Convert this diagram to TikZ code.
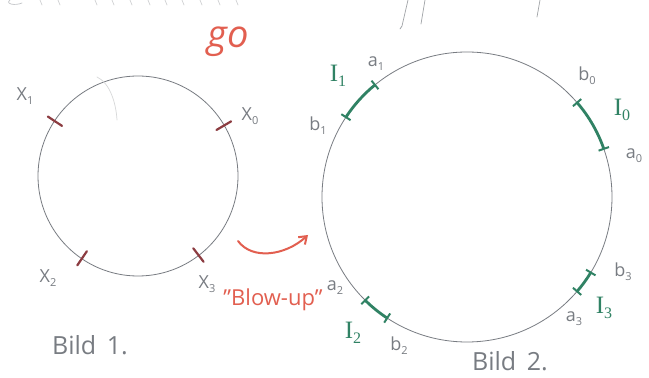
\documentclass[tikz,border=0pt]{standalone}
\usepackage{fontspec}
\setmainfont{Open Sans}
\newfontfamily\serifI{Liberation Serif}
\usetikzlibrary{arrows.meta,calc}
\definecolor{pencil}{RGB}{120,124,130}
\definecolor{redpen}{RGB}{226,95,80}
\definecolor{tickred}{RGB}{140,60,65}
\definecolor{greenpen}{RGB}{48,130,100}
\newcommand{\lowsub}[1]{\raisebox{-4pt}{\fontsize{11}{11}\selectfont #1}}
\newcommand{\greensub}[1]{\raisebox{-5pt}{\fontsize{16}{16}\selectfont #1}}
\tikzset{
  circ/.style={circle, draw=pencil, line width=0.8pt, inner sep=0pt, outer sep=0pt},
  tickmark/.style={draw=tickred, line width=2.2pt, line cap=round},
  lbl/.style={text=pencil, font=\fontsize{18}{18}\selectfont, inner sep=0pt},
  ilbl/.style={text=greenpen, font=\fontsize{25}{25}\selectfont\serifI, inner sep=0pt},
  interval/.style={draw=greenpen, line width=2.8pt, {Bar[width=11pt,line width=2pt]}-{Bar[width=11pt,line width=2pt]}},
  bild/.style={text=pencil, font=\fontsize{25}{25}\selectfont, inner sep=0pt},
  redtxt/.style={text=redpen, inner sep=0pt},
  faint/.style={draw=pencil!45, line width=0.7pt, line cap=round}
}
\begin{document}
\begin{tikzpicture}[x=1pt,y=1pt]
\useasboundingbox (0,0) rectangle (649,378);
\fill[white] (0,0) rectangle (649,378);

% cut-off strokes at the top edge
\draw[faint] (10,378) .. controls (5,374) and (15,372) .. (22,375);
\foreach \xx in {40,58,95,112,130,148,165,182,200,218,236}
  \draw[faint, draw=pencil!35] (\xx,378) -- (\xx+2,373);
\draw[faint, draw=pencil!70] (408,378) -- (402,352) -- (400,349);
\draw[faint, draw=pencil!70] (425,378) -- (421,354);
\draw[faint, draw=pencil!70] (540,378) -- (537,361);

% Bild 1
\node[circ, minimum size=200pt] (C1) at (138,202) {};
\draw[faint, draw=pencil!30] (97,301) .. controls (110,295) and (116,275) .. (117,258);
\foreach \ang/\nm in {30.4/t0, 146.6/t1, 235.8/t2, 307.4/t3} {
  \coordinate (\nm a) at ($(C1.center)+(\ang:91)$);
  \coordinate (\nm b) at ($(C1.center)+(\ang:108)$);
  \draw[tickmark] (\nm a) -- (\nm b);
}
\node[lbl] (x1) at (25,282) {X\lowsub{1}};
\node[lbl] (x0) at (250,262) {X\lowsub{0}};
\node[lbl] (x2) at (48,100) {X\lowsub{2}};
\node[lbl] (x3) at (207,94) {X\lowsub{3}};
\node[bild] (bild1) at (90,33) {Bild\, 1.};

% red notes
\node[redtxt, font=\fontsize{38}{38}\selectfont\itshape] (go) at (228,336) {go};
\node[redtxt, font=\fontsize{22}{22}\selectfont] (blow) at (273,78) {"Blow-up"};
\coordinate (arrS) at (238,137);
\coordinate (arrE) at (308,143);
\draw[draw=redpen, line width=2pt, line cap=round, -{Straight Barb[length=7pt,width=10pt,line width=2pt]}]
  (arrS) .. controls (252,118) and (285,122) .. (arrE);

% Bild 2
\node[circ, minimum size=290pt] (C2) at (467,181) {};
\draw[interval] (C2.129) arc[start angle=129, end angle=147, radius=145pt];
\draw[interval] (C2.41) arc[start angle=41, end angle=19, radius=145pt];
\draw[interval] (C2.225) arc[start angle=225, end angle=237, radius=145pt];
\draw[interval] (C2.-41) arc[start angle=-41, end angle=-31, radius=145pt];

\node[ilbl] (I1) at (338,302) {I\greensub{1}};
\node[lbl] (a1) at (376,314) {a\lowsub{1}};
\node[lbl] (b1) at (318,252) {b\lowsub{1}};
\node[lbl] (b0) at (587,302) {b\lowsub{0}};
\node[ilbl] (I0) at (622,268) {I\greensub{0}};
\node[lbl] (a0) at (634,222) {a\lowsub{0}};
\node[lbl] (a2) at (335,90) {a\lowsub{2}};
\node[ilbl] (I2) at (353,45) {I\greensub{2}};
\node[lbl] (b2) at (399,32) {b\lowsub{2}};
\node[lbl] (b3) at (623,106) {b\lowsub{3}};
\node[ilbl] (I3) at (604,70) {I\greensub{3}};
\node[lbl] (a3) at (574,59) {a\lowsub{3}};
\node[bild] (bild2) at (510,17) {Bild\, 2.};
\end{tikzpicture}
\end{document}
